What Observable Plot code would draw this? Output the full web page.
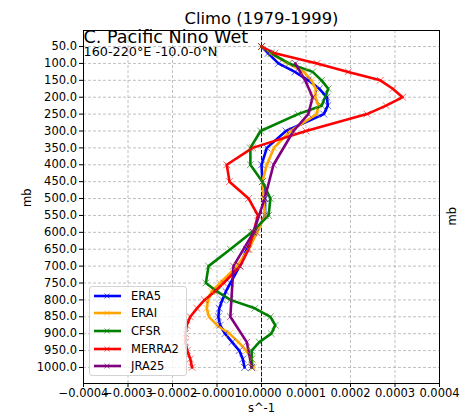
<!DOCTYPE html>
<html><head><meta charset="utf-8">
<script src="https://cdn.jsdelivr.net/npm/d3@7"></script>
<script src="https://cdn.jsdelivr.net/npm/@observablehq/plot@0.6"></script>
<style>
body{margin:0;background:#fff;font-family:"DejaVu Sans",sans-serif;}
#wrap{position:relative;width:469px;height:416px;}
#legend{position:absolute;left:89px;top:286px;width:98px;height:90px;background:rgba(255,255,255,0.8);border:1px solid #d3d3d3;border-radius:3px;box-sizing:border-box;font-size:11.5px;color:#000;}
.item{position:absolute;left:3px;height:16px;display:flex;align-items:center;}
.item span{margin-left:10px;}
</style></head><body><div id="wrap"><div id="chart"></div><div id="legend"></div></div>
<script>
// Series names and colours
const series = ["ERA5", "ERAI", "CFSR", "MERRA2", "JRA25"];
const colors = ["blue", "orange", "green", "red", "purple"];
// Pressure levels (mb)
const levels = [50,70,100,125,150,175,200,225,250,300,350,400,450,500,550,600,650,700,750,775,800,825,850,875,900,925,950,975,1000];
const levelsJRA = [100,150,200,250,300,400,500,600,700,850,925,1000];
// Values in units of 1e-4 s^-1
const era5   = [0.0,0.15,0.38,0.75,1.05,1.30,1.47,1.49,1.40,0.55,0.12,0.0,0.02,0.08,0.08,-0.12,-0.33,-0.49,-0.70,-0.80,-0.88,-0.95,-0.97,-0.93,-0.82,-0.66,-0.50,-0.42,-0.38];
const erai   = [0.0,0.20,0.60,0.95,1.12,1.22,1.21,1.28,1.24,0.65,0.28,0.12,0.02,0.05,0.08,-0.10,-0.29,-0.55,-0.93,-1.12,-1.20,-1.23,-1.18,-1.00,-0.72,-0.52,-0.34,-0.22,-0.18];
const cfsr   = [0.0,0.22,0.62,1.15,1.35,1.50,1.43,1.35,0.82,-0.02,-0.25,-0.25,0.02,0.20,0.16,-0.22,-0.70,-1.19,-1.25,-1.00,-0.70,-0.15,0.20,0.31,0.22,-0.05,-0.22,-0.22,-0.22];
const merra2 = [0.0,0.30,1.25,1.95,2.67,2.95,3.17,2.80,2.37,1.00,-0.20,-0.78,-0.72,-0.29,-0.08,-0.18,-0.29,-0.48,-0.85,-1.05,-1.28,-1.45,-1.60,-1.68,-1.71,-1.71,-1.67,-1.60,-1.56];
const jra25  = [0.76,0.98,1.15,1.05,0.72,0.27,0.07,-0.18,-0.63,-0.70,-0.33,-0.22];
// Tick values
const xTicks = [-0.0004,-0.0003,-0.0002,-0.0001,0,0.0001,0.0002,0.0003,0.0004];
const yTicks = [50,100,150,200,250,300,350,400,450,500,550,600,650,700,750,800,850,900,950,1000];

const unit = 1e-4;
const seriesVals = [era5, erai, cfsr, merra2, jra25];
const seriesLevels = [levels, levels, levels, levels, levelsJRA];
const rows = [];
series.forEach((s, i) => {
  seriesVals[i].forEach((v, j) => rows.push({series: s, p: seriesLevels[i][j], v: v * unit}));
});

const fmtX = d => (d < 0 ? "\u2212" : "") + Math.abs(d).toFixed(4);
const font = "DejaVu Sans, sans-serif";

const chart = Plot.plot({
  width: 469, height: 416,
  marginLeft: 83, marginRight: 30, marginTop: 30, marginBottom: 33,
  style: {fontFamily: font, fontSize: "11.5px", background: "white", color: "black"},
  x: {domain: [-0.0004, 0.0004]},
  y: {domain: [2.5, 1047.5], reverse: true},
  color: {domain: series, range: colors},
  marks: [
    Plot.gridX(xTicks, {stroke: "#b0b0b0", strokeOpacity: 1, strokeWidth: 0.8, strokeDasharray: "3,2"}),
    Plot.gridY(yTicks, {stroke: "#b0b0b0", strokeOpacity: 1, strokeWidth: 0.8, strokeDasharray: "3,2"}),
    Plot.ruleX([0], {stroke: "black", strokeWidth: 0.9, strokeDasharray: "4,2"}),
    Plot.line(rows, {x: "v", y: "p", z: "series", stroke: "series", strokeWidth: 2.6}),
    Plot.dot(rows, {x: "v", y: "p", stroke: "series", symbol: "times", r: 3.2, strokeWidth: 1, strokeOpacity: 0.6}),
    Plot.frame({stroke: "black", strokeWidth: 1}),
    Plot.axisX(xTicks, {tickSize: 4, tickPadding: 1.5, tickFormat: fmtX, fontSize: 11.5, label: null}),
    Plot.axisY(yTicks, {tickSize: 4, tickPadding: 2.5, tickFormat: d => d.toFixed(1), fontSize: 11.5, label: null}),
    Plot.text(["Climo (1979-1999)"], {frameAnchor: "top", lineAnchor: "middle", dy: -12, fontSize: 16.4, fill: "black"}),
    Plot.text(["C. Pacific Nino Wet"], {frameAnchor: "top-left", lineAnchor: "middle", textAnchor: "start", dy: 7, dx: 0, fontSize: 17.6, fill: "black"}),
    Plot.text(["160-220°E -10.0-0°N"], {frameAnchor: "top-left", lineAnchor: "middle", textAnchor: "start", dy: 21.8, dx: 0, fontSize: 12.8, fill: "black"}),
    Plot.text(["s^-1"], {frameAnchor: "bottom", lineAnchor: "middle", dy: 25, fontSize: 11.5, fill: "black"}),
    Plot.text(["mb"], {frameAnchor: "left", lineAnchor: "middle", dx: -56, rotate: -90, fontSize: 11.5, fill: "black"}),
    Plot.text(["mb"], {frameAnchor: "right", lineAnchor: "middle", dx: 13, rotate: -90, fontSize: 11.5, fill: "black"})
  ]
});
document.getElementById("chart").appendChild(chart);

// Legend (overlay, semi-transparent like matplotlib)
const legend = document.getElementById("legend");
const tops = [0.5, 18.2, 35.9, 53.6, 71.3];
series.forEach((s, i) => {
  const item = document.createElement("div");
  item.className = "item";
  item.style.top = tops[i] + "px";
  item.innerHTML = `<svg width="28" height="16"><line x1="1" x2="28" y1="8" y2="8" stroke="${colors[i]}" stroke-width="2.6"/>` +
    `<path d="M11.5,5.5L16.5,10.5M11.5,10.5L16.5,5.5" stroke="${colors[i]}" stroke-opacity="0.6" stroke-width="1"/></svg><span>${s}</span>`;
  legend.appendChild(item);
});
</script></body></html>
